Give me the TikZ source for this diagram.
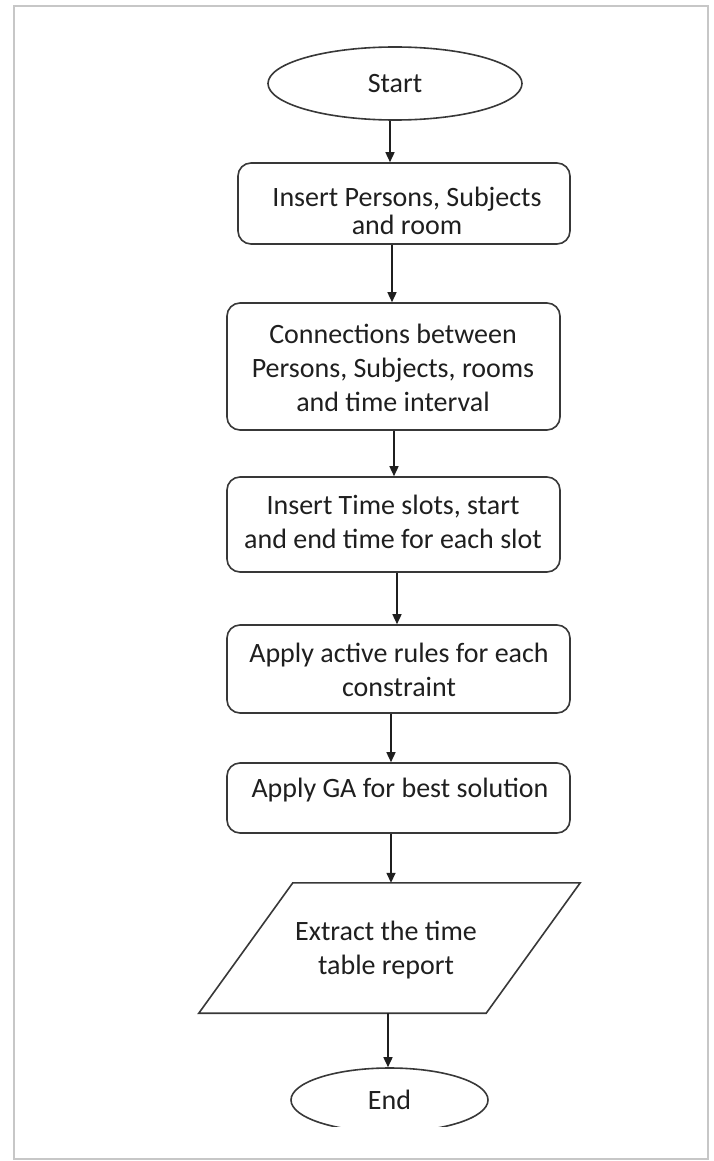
\documentclass[tikz,border=0pt]{standalone}
\usepackage{fontspec}
\setmainfont{Carlito}
\usetikzlibrary{shapes.geometric,arrows.meta}
\begin{document}
\begin{tikzpicture}[x=1pt,y=-1pt,
  shp/.style={draw=black!78, line width=1.6pt},
  boxnode/.style={shp, rectangle, rounded corners=13pt, inner sep=0pt},
  ellnode/.style={shp, ellipse, inner sep=0pt, text=black!88, font=\fontsize{28}{34}\selectfont},
  txt/.style={align=center, inner sep=0pt, text=black!88, font=\fontsize{28}{34}\selectfont},
  txttight/.style={txt, font=\fontsize{28}{28}\selectfont},
  arr/.style={line width=1.5pt, draw=black!88, -{Triangle[length=10pt,width=9pt]}}
]
\path[fill=white] (0,0) rectangle (713,1161);
\useasboundingbox (0,0) rectangle (713,1161);
\draw[black!22, line width=2pt] (14,6) rectangle (708,1159);

% shapes
\node[ellnode, minimum width=254pt, minimum height=73pt] (start) at (395,83.5) {Start};
\node[boxnode, minimum width=332pt, minimum height=81pt] (b1) at (404,203.5) {};
\node[boxnode, minimum width=333pt, minimum height=127pt] (b2) at (393.5,366.5) {};
\node[boxnode, minimum width=333pt, minimum height=95pt] (b3) at (393.5,524.5) {};
\node[boxnode, minimum width=343pt, minimum height=88pt] (b4) at (398.5,669) {};
\node[boxnode, minimum width=343pt, minimum height=70pt] (b5) at (398.5,798) {};
\node[minimum width=287pt, minimum height=130pt, inner sep=0pt] (p) at (389.5,948) {};
\draw[shp] ([xshift=47pt]p.north west) -- ([xshift=47pt]p.north east)
  -- ([xshift=-47pt]p.south east) -- ([xshift=-47pt]p.south west) -- cycle;
\begin{scope}
\clip (0,0) rectangle (713,1126);
\node[ellnode, minimum width=197pt, minimum height=64pt] (end) at (389.5,1100) {End};
\end{scope}

% texts
\node[txttight] (t1) at (407,211) {Insert Persons, Subjects\\and room};
\node[txt] (t2) at (393,368) {Connections between\\Persons, Subjects, rooms\\and time interval};
\node[txt] (t3) at (393,522) {Insert Time slots, start\\and end time for each slot};
\node[txt] (t4) at (399,670) {Apply active rules for each\\constraint};
\node[txt] (t5) at (400,790) {Apply GA for best solution};
\node[txt] (tp) at (386,950) {Extract the time\\table report};

% connector columns
\coordinate (c1) at (390,0);
\coordinate (c2) at (392,0);
\coordinate (c3) at (394,0);
\coordinate (c4) at (397,0);
\coordinate (c5) at (391,0);
\coordinate (c6) at (391,0);
\coordinate (c7) at (388,0);

\draw[arr] (start.south -| c1) -- (b1.north -| c1);
\draw[arr] (b1.south -| c2) -- (b2.north -| c2);
\draw[arr] (b2.south -| c3) -- (b3.north -| c3);
\draw[arr] (b3.south -| c4) -- (b4.north -| c4);
\draw[arr] (b4.south -| c5) -- (b5.north -| c5);
\draw[arr] (b5.south -| c6) -- (p.north -| c6);
\draw[arr] (p.south -| c7) -- (end.north -| c7);
\end{tikzpicture}
\end{document}
